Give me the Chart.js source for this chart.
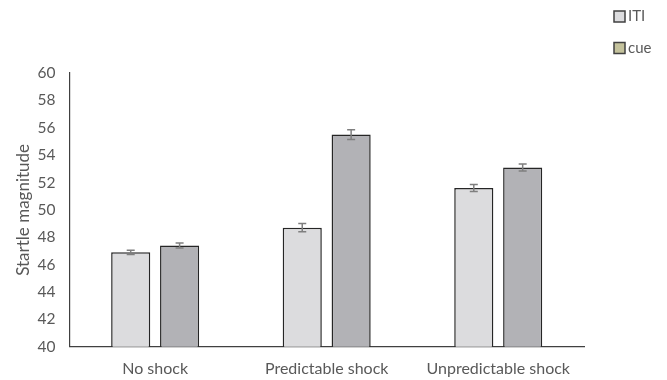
<!DOCTYPE html>
<html>
<head>
<meta charset="utf-8">
<script src="https://cdn.jsdelivr.net/npm/chart.js@4"></script>
<style>
  html, body { margin: 0; padding: 0; background: #fff; }
</style>
</head>
<body>
<canvas id="startleChart" width="667" height="380"></canvas>
<script>
// conditions and startle values
const conditions = ["No shock", "Predictable shock", "Unpredictable shock"];
const itiValues = [46.9, 48.7, 51.6];
const cueValues = [47.4, 55.5, 53.1];
const itiErrors = [0.15, 0.3, 0.25];
const cueErrors = [0.18, 0.35, 0.25];
const yTicks = [40, 42, 44, 46, 48, 50, 52, 54, 56, 58, 60];

const textColor = "#595959";
const fontFamily = "Lato, 'Open Sans', sans-serif";

// --- error bars drawn on top of each bar ---
const errorBars = {
    id: "errorBars",
    afterDatasetsDraw(chart) {
        const ctx = chart.ctx;
        const y = chart.scales.y;
        const errs = [itiErrors, cueErrors];
        ctx.save();
        ctx.strokeStyle = "#7f7f7f";
        ctx.lineWidth = 1.5;
        chart.data.datasets.forEach((ds, i) => {
            const meta = chart.getDatasetMeta(i);
            meta.data.forEach((bar, j) => {
                const v = ds.data[j];
                const e = errs[i][j];
                const yTop = y.getPixelForValue(v + e);
                const yBot = y.getPixelForValue(v - e);
                const x = bar.x;
                ctx.beginPath();
                ctx.moveTo(x, yTop); ctx.lineTo(x, yBot);
                ctx.moveTo(x - 4, yTop); ctx.lineTo(x + 4, yTop);
                ctx.moveTo(x - 4, yBot); ctx.lineTo(x + 4, yBot);
                ctx.stroke();
            });
        });
        ctx.restore();
    }
};

// --- small stacked legend in the top right corner ---
const cornerLegend = {
    id: "cornerLegend",
    afterDraw(chart) {
        const ctx = chart.ctx;
        const x = 614, y0 = 11, step = 31.5, box = 11;
        ctx.save();
        ctx.font = "15px " + fontFamily;
        ctx.textBaseline = "middle";
        chart.data.datasets.forEach((ds, i) => {
            const y = y0 + i * step;
            ctx.fillStyle = ds.legendColor;
            ctx.fillRect(x, y, box, box);
            ctx.strokeStyle = "#404040";
            ctx.lineWidth = 1.5;
            ctx.strokeRect(x, y, box, box);
            ctx.fillStyle = textColor;
            ctx.fillText(ds.label, x + box + 3, y + box / 2);
        });
        ctx.restore();
    }
};

const ctx = document.getElementById("startleChart").getContext("2d");
new Chart(ctx, {
    type: "bar",
    data: {
        labels: conditions,
        datasets: [
            {
                label: "ITI",
                data: itiValues,
                backgroundColor: "#dcdcde",
                borderColor: "#262626",
                borderWidth: 1.5,
                legendColor: "#dcdcde"
            },
            {
                label: "cue",
                data: cueValues,
                backgroundColor: "#b2b2b6",
                borderColor: "#262626",
                borderWidth: 1.5,
                legendColor: "#c4c29c"
            }
        ]
    },
    options: {
        responsive: false,
        animation: false,
        devicePixelRatio: 1,
        categoryPercentage: 0.57,
        barPercentage: 0.8,
        layout: { padding: { top: 73, right: 83, left: 13, bottom: -10 } },
        plugins: {
            tooltip: { enabled: false },
            legend: { display: false }
        },
        scales: {
            x: {
                grid: { display: false, drawTicks: false },
                border: { color: "#404040", width: 1.2 },
                ticks: {
                    color: textColor,
                    padding: 12,
                    autoSkip: false,
                    maxRotation: 0,
                    font: { family: fontFamily, size: 16 }
                }
            },
            y: {
                min: 40,
                max: 60,
                afterBuildTicks(axis) {
                    axis.ticks = yTicks.map(v => ({ value: v }));
                },
                grid: { display: false, drawTicks: false },
                border: { color: "#404040", width: 1.2 },
                ticks: {
                    color: textColor,
                    padding: 14,
                    autoSkip: false,
                    font: { family: fontFamily, size: 15.5 }
                },
                title: {
                    display: true,
                    text: "Startle magnitude",
                    color: textColor,
                    padding: { top: 0, bottom: -10 },
                    font: { family: fontFamily, size: 17 }
                }
            }
        }
    },
    plugins: [errorBars, cornerLegend]
});
</script>
</body>
</html>
